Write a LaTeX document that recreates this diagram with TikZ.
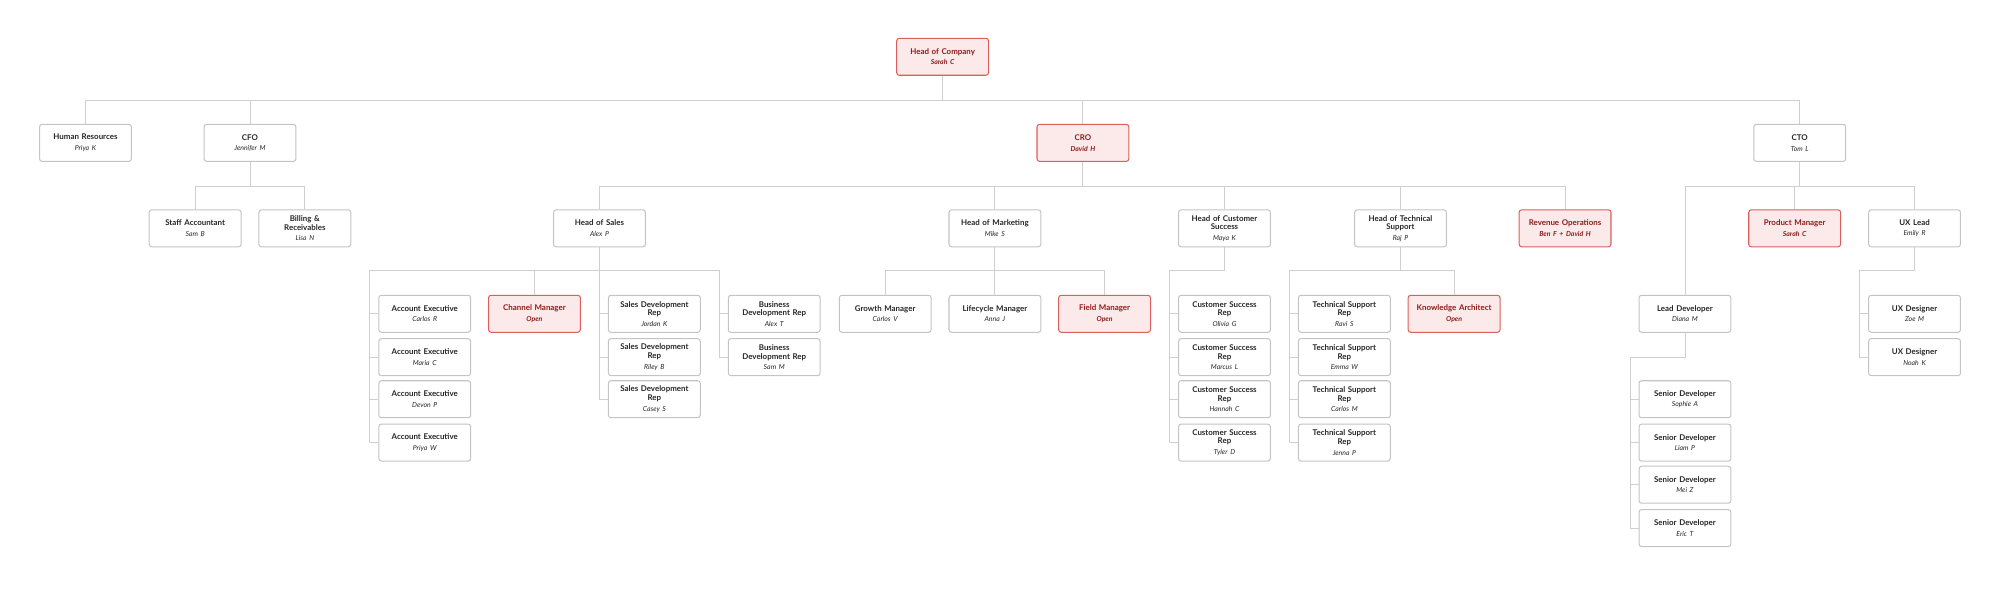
\documentclass[tikz,border=0pt]{standalone}
\usepackage{fontspec}
\setmainfont{Lato}
\begin{document}
\begin{tikzpicture}[x=1pt,y=-1pt,
  box/.style={draw=boxgray,line width=0.8pt,rounded corners=2pt,fill=white,minimum width=72pt,minimum height=29pt,text width=70pt,align=center,inner sep=1pt,font=\fontsize{6.2}{6.8}\selectfont,text=black!85},
  red/.style={box,draw=redb,fill=redf,text=redt},
  ln/.style={draw=linegray,line width=0.7pt}]
\definecolor{boxgray}{HTML}{C4C4C4}
\definecolor{linegray}{HTML}{CFCFCF}
\definecolor{redb}{HTML}{D9605C}
\definecolor{redf}{HTML}{FCE9E9}
\definecolor{redt}{HTML}{8E1B1B}
\useasboundingbox (0,0) rectangle (1568,464);
\newcommand\nm[1]{\\[1.5pt]{\fontsize{5.4}{6}\selectfont\itshape #1}}
% level 0
\node[red] (ceo) at (739,44.5) {\textbf{Head of Company}\nm{\textbf{Sarah C}}};
% level 1
\node[box] (hr) at (67,112) {\textbf{Human Resources}\nm{Priya K}};
\node[box] (cfo) at (196,112) {\textbf{CFO}\nm{Jennifer M}};
\node[red] (cro) at (849,112) {\textbf{CRO}\nm{\textbf{David H}}};
\node[box] (cto) at (1411,112) {\textbf{CTO}\nm{Tom L}};
% level 2
\node[box] (sa) at (153,179) {\textbf{Staff Accountant}\nm{Sam B}};
\node[box] (br) at (239,179) {\textbf{Billing \&\\Receivables}\nm{Lisa N}};
\node[box] (hs) at (470,179) {\textbf{Head of Sales}\nm{Alex P}};
\node[box] (hm) at (780,179) {\textbf{Head of Marketing}\nm{Mike S}};
\node[box] (hc) at (960,179) {\textbf{Head of Customer\\Success}\nm{Maya K}};
\node[box] (ht) at (1098,179) {\textbf{Head of Technical\\Support}\nm{Raj P}};
\node[red] (ro) at (1227,179) {\textbf{Revenue Operations}\nm{\textbf{Ben F + David H}}};
\node[red] (pm) at (1407,179) {\textbf{Product Manager}\nm{\textbf{Sarah C}}};
\node[box] (ux) at (1501,179) {\textbf{UX Lead}\nm{Emily R}};
% sales
\node[box] (ae1) at (333,246) {\textbf{Account Executive}\nm{Carlos R}};
\node[box] (ae2) at (333,280) {\textbf{Account Executive}\nm{Maria C}};
\node[box] (ae3) at (333,313) {\textbf{Account Executive}\nm{Devon P}};
\node[box] (ae4) at (333,347) {\textbf{Account Executive}\nm{Priya W}};
\node[red] (chm) at (419,246) {\textbf{Channel Manager}\nm{\textbf{Open}}};
\node[box] (sd1) at (513,246) {\textbf{Sales Development\\Rep}\nm{Jordan K}};
\node[box] (sd2) at (513,280) {\textbf{Sales Development\\Rep}\nm{Riley B}};
\node[box] (sd3) at (513,313) {\textbf{Sales Development\\Rep}\nm{Casey S}};
\node[box] (bd1) at (607,246) {\textbf{Business\\Development Rep}\nm{Alex T}};
\node[box] (bd2) at (607,280) {\textbf{Business\\Development Rep}\nm{Sam M}};
% marketing
\node[box] (gm) at (694,246) {\textbf{Growth Manager}\nm{Carlos V}};
\node[box] (lm) at (780,246) {\textbf{Lifecycle Manager}\nm{Anna J}};
\node[red] (fm) at (866,246) {\textbf{Field Manager}\nm{\textbf{Open}}};
% customer success
\node[box] (cs1) at (960,246) {\textbf{Customer Success\\Rep}\nm{Olivia G}};
\node[box] (cs2) at (960,280) {\textbf{Customer Success\\Rep}\nm{Marcus L}};
\node[box] (cs3) at (960,313) {\textbf{Customer Success\\Rep}\nm{Hannah C}};
\node[box] (cs4) at (960,347) {\textbf{Customer Success\\Rep}\nm{Tyler D}};
% tech support
\node[box] (ts1) at (1054,246) {\textbf{Technical Support\\Rep}\nm{Ravi S}};
\node[box] (ts2) at (1054,280) {\textbf{Technical Support\\Rep}\nm{Emma W}};
\node[box] (ts3) at (1054,313) {\textbf{Technical Support\\Rep}\nm{Carlos M}};
\node[box] (ts4) at (1054,347) {\textbf{Technical Support\\Rep}\nm{Jenna P}};
\node[red] (ka) at (1140,246) {\textbf{Knowledge Architect}\nm{\textbf{Open}}};
% CTO
\node[box] (ld) at (1321,246) {\textbf{Lead Developer}\nm{Diana M}};
\node[box] (sv1) at (1321,313) {\textbf{Senior Developer}\nm{Sophie A}};
\node[box] (sv2) at (1321,347) {\textbf{Senior Developer}\nm{Liam P}};
\node[box] (sv3) at (1321,380) {\textbf{Senior Developer}\nm{Mei Z}};
\node[box] (sv4) at (1321,414) {\textbf{Senior Developer}\nm{Eric T}};
\node[box] (ud1) at (1501,246) {\textbf{UX Designer}\nm{Zoe M}};
\node[box] (ud2) at (1501,280) {\textbf{UX Designer}\nm{Noah K}};
% connectors
\foreach \c in {hr,cfo,cro,cto}{\draw[ln] (ceo.south) -- (ceo.south |- 0,79) -| (\c.north);}
\foreach \c in {sa,br}{\draw[ln] (cfo.south) -- (cfo.south |- 0,146) -| (\c.north);}
\foreach \c in {hs,hm,hc,ht,ro}{\draw[ln] (cro.south) -- (cro.south |- 0,146) -| (\c.north);}
\foreach \c in {pm,ux,ld}{\draw[ln] (cto.south) -- (cto.south |- 0,146) -| (\c.north);}
\coordinate (sb) at (470,212);
\draw[ln] (hs.south) -- (sb);
\coordinate (rl) at (290,212); \coordinate (rr) at (564,212);
\draw[ln] (rl) -- (rr);
\foreach \c in {ae1,ae2,ae3,ae4}{\draw[ln] (rl) |- (\c.west);}
\draw[ln] (chm.north) -- (chm.north |- sb);
\foreach \c in {sd1,sd2,sd3}{\draw[ln] (sb) |- (\c.west);}
\foreach \c in {bd1,bd2}{\draw[ln] (rr) |- (\c.west);}
\foreach \c in {gm,lm,fm}{\draw[ln] (hm.south) -- (hm.south |- 0,212) -| (\c.north);}
\coordinate (cr) at (917,212);
\draw[ln] (hc.south) |- (cr);
\foreach \c in {cs1,cs2,cs3,cs4}{\draw[ln] (cr) |- (\c.west);}
\coordinate (tr) at (1011,212);
\draw[ln] (ht.south) -- (ht.south |- tr);
\draw[ln] (tr) -| (ka.north);
\foreach \c in {ts1,ts2,ts3,ts4}{\draw[ln] (tr) |- (\c.west);}
\coordinate (dr) at (1278,280);
\draw[ln] (ld.south) |- (dr);
\foreach \c in {sv1,sv2,sv3,sv4}{\draw[ln] (dr) |- (\c.west);}
\coordinate (ur) at (1458,212);
\draw[ln] (ux.south) |- (ur);
\foreach \c in {ud1,ud2}{\draw[ln] (ur) |- (\c.west);}
\end{tikzpicture}
\end{document}
